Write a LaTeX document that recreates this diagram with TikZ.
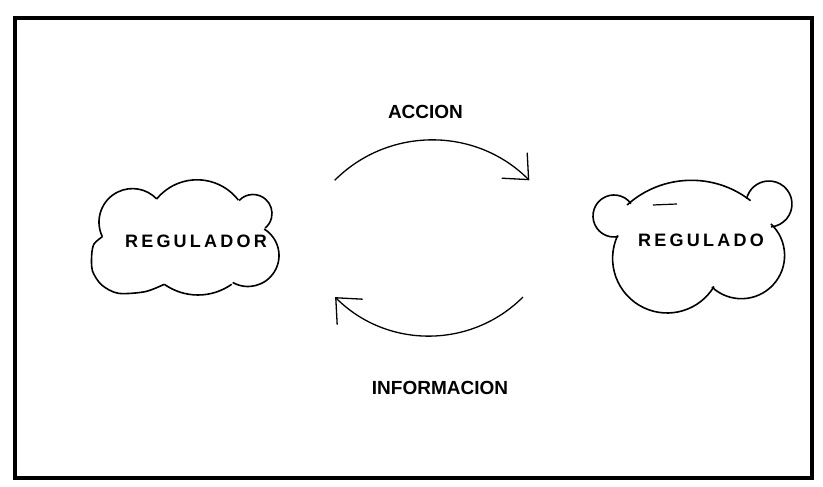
\documentclass[tikz,border=0pt]{standalone}
\usepackage{fontspec}
\setmainfont{Liberation Sans}
\newfontfamily\spaced[LetterSpace=18]{Liberation Sans}
\usetikzlibrary{arrows.meta}

\begin{document}
\begin{tikzpicture}[x=1pt,y=1pt,
        cloudline/.style={line width=1.6pt},
        flow/.style={line width=1.3pt,-{Straight Barb[length=20pt,width=36pt]}},
        flowtext/.style={font=\fontsize{19}{22}\selectfont\bfseries},
        cloudtext/.style={font=\spaced\fontsize{18}{21}\selectfont\bfseries}]
                \useasboundingbox (0,0) rectangle (823,487);
                \draw [line width=4pt] (14.5,9) rectangle (812,469);
                % regulador
                \foreach \cx/\cy/\r/\a/\b in {132.5/264.9/33.5/205.8/43.7, 197.1/255.1/52.1/140.8/37.7, 253/273.5/19/137/-50, 248/231.5/31/58.5/-119.5, 198/250.4/58.4/-54.8/-125.2}
                    \draw [cloudline] (\cx,\cy) ++(\a:\r) arc[start angle=\a, end angle=\b, radius=\r];
                \draw [cloudline] plot[smooth] coordinates {(164.3,202.7) (145,195.3) (118.3,193.7) (101.7,202) (92.5,216) (91.7,232) (94,243) (102.3,250.3)};
                \node [cloudtext] (regulador) at (196,246) {REGULADOR};
                % regulado
                \foreach \cx/\cy/\r/\a/\b in {614/271/21/36/282, 667.2/228.6/54.6/155/329, 741.4/231.5/43.2/227/407, 769/283/23/-85/167, 691.4/210.6/96.1/52/132}
                    \draw [cloudline] (\cx,\cy) ++(\a:\r) arc[start angle=\a, end angle=\b, radius=\r];
                \draw [line width=1.2pt] (653,282) -- (677,283);
                \node [cloudtext] (regulado) at (701,246.5) {REGULADO};
                % flechas
                \coordinate (accion-a) at (334.7,306.7);
                \coordinate (info-a) at (522.9,189.9);
                \draw [flow] (accion-a) arc[start angle=135, end angle=45, radius=137.6];
                \draw [flow] (info-a) arc[start angle=-45, end angle=-135, radius=132.8];
                \node [flowtext] (accion) at (425.5,375.5) {ACCION};
                \node [flowtext] (informacion) at (440,99.5) {INFORMACION};
            \end{tikzpicture}
\end{document}
